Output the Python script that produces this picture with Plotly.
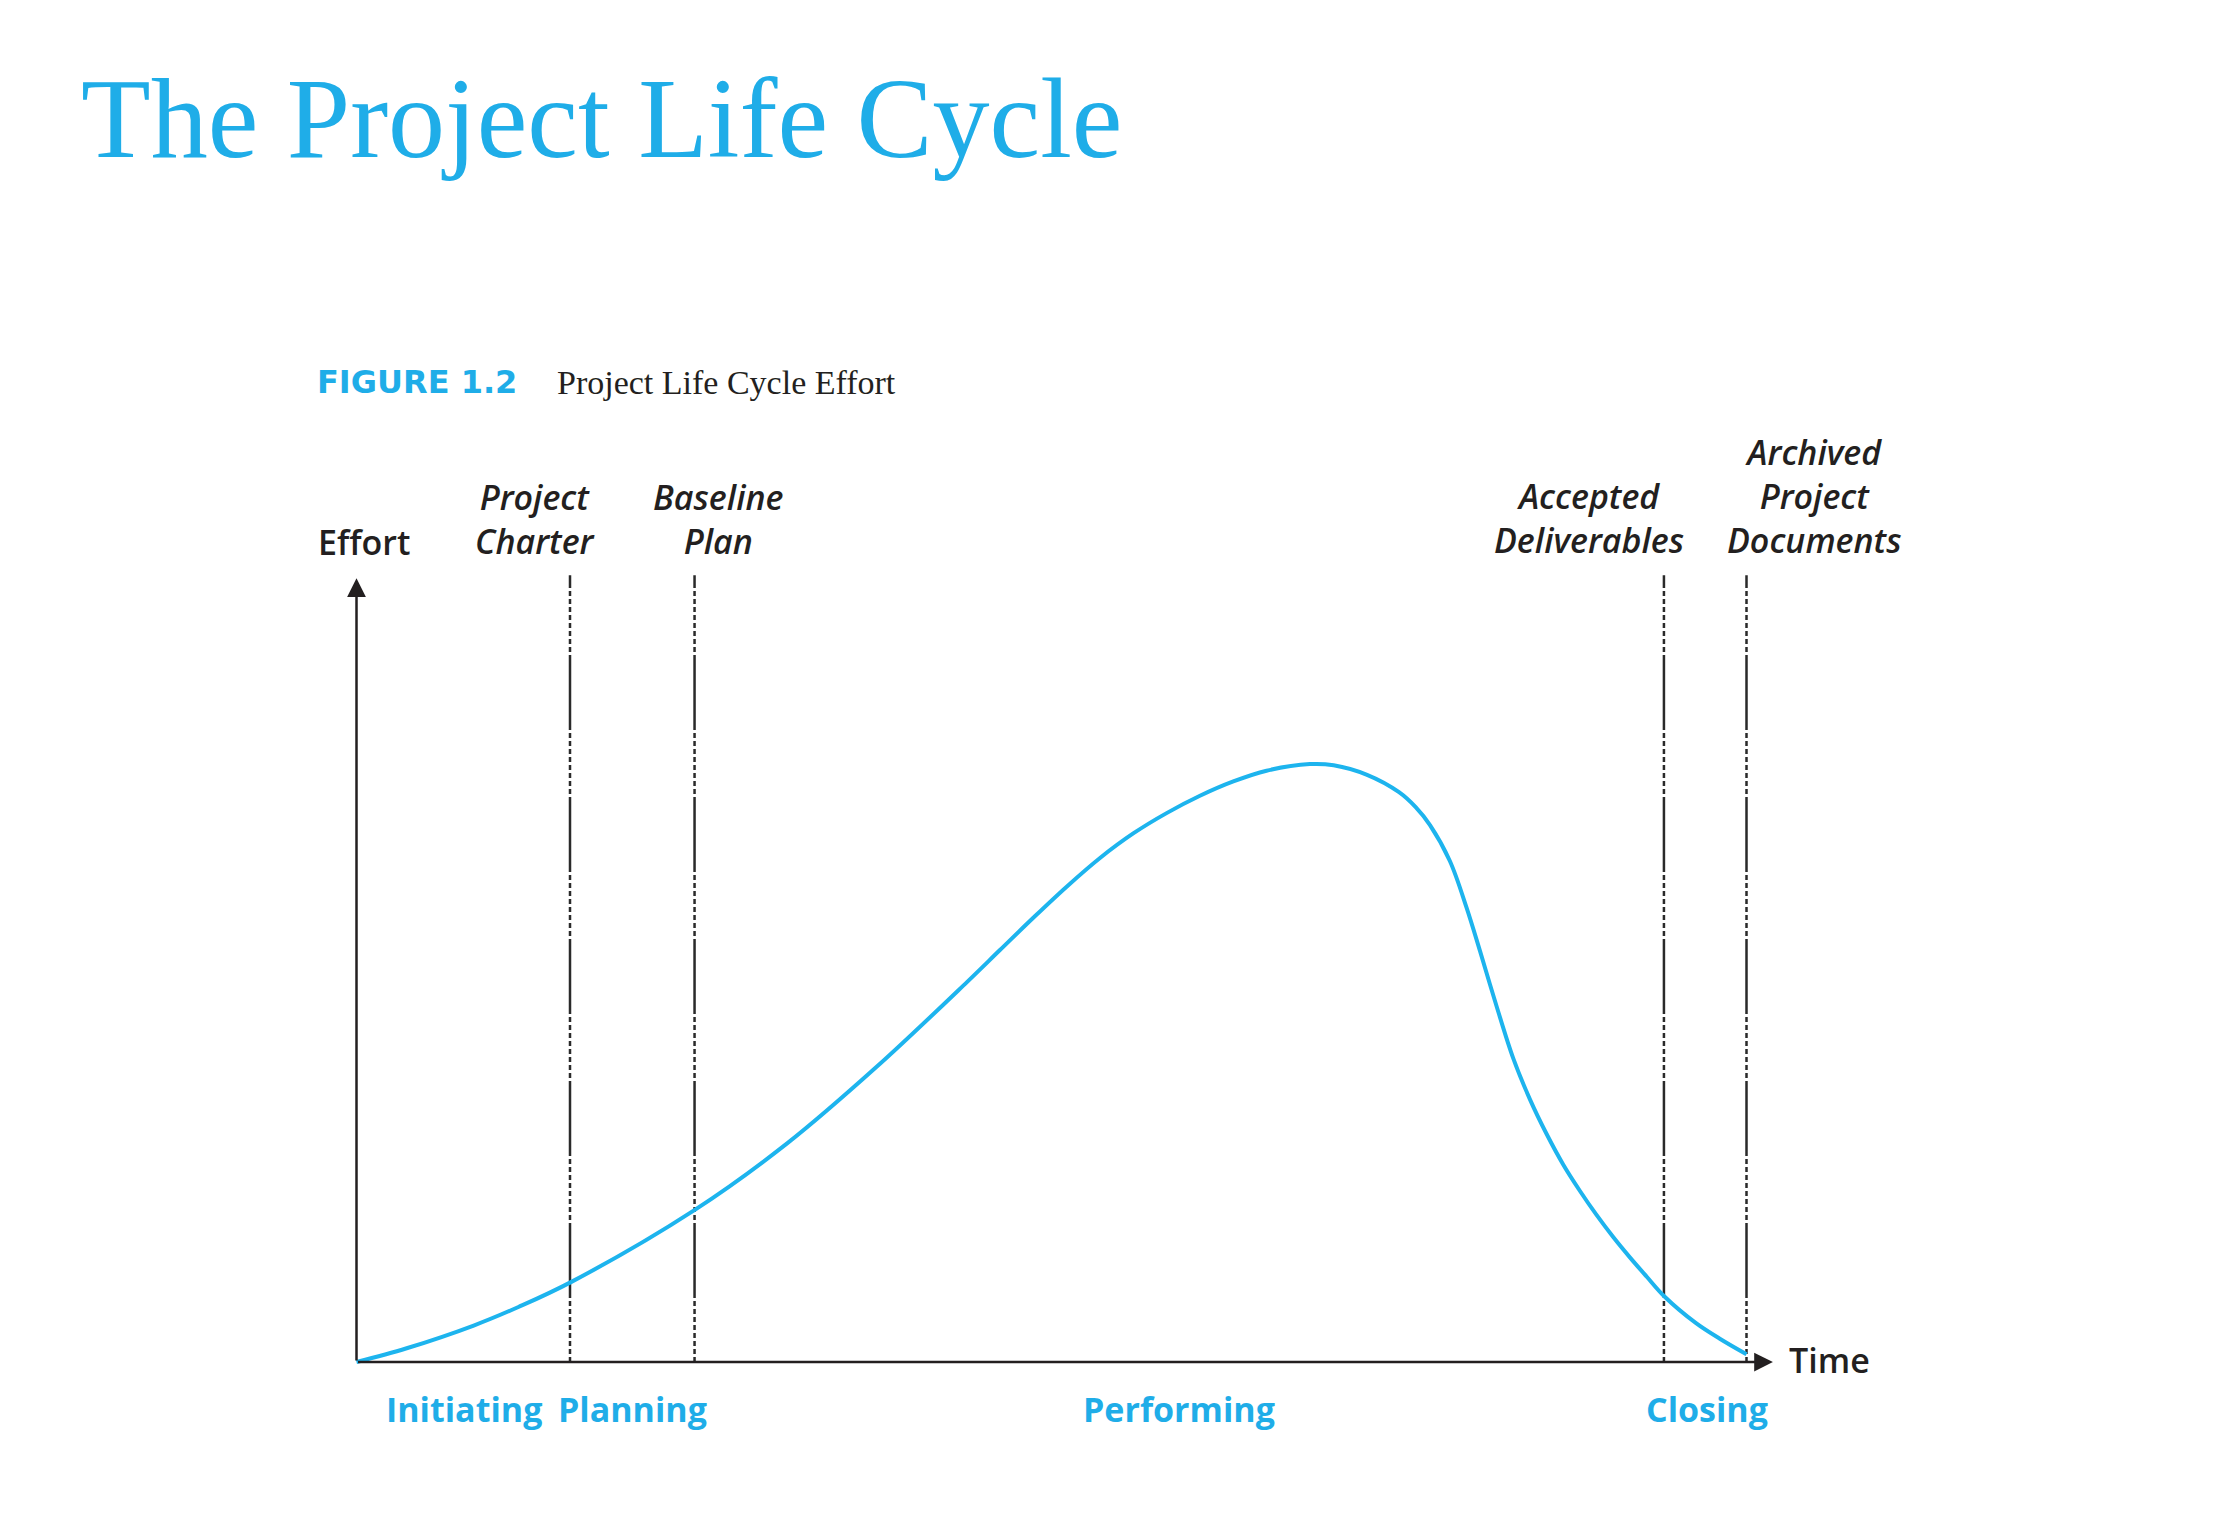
import plotly.graph_objects as go

# ---------------- data ----------------
time_pts = [0, 3.61, 8.43, 11.65, 15.46, 24.31, 30.98, 37.42, 43.9, 46.29, 48.69, 51.09,
            53.49, 55.88, 58.28, 60.68, 63.08, 65.47, 68.59, 70.3, 72.7, 75.0, 76.2,
            77.23, 78.66, 79.86, 80.82, 82.02, 83.22, 84.42, 85.62, 86.82, 88.02, 89.21,
            90.41, 91.61, 92.81, 94.08, 96.37, 98.08, 100]
effort = [0, 2.3, 6.1, 9.2, 13.4, 25.4, 36.56, 49.37, 63.5, 68.9, 74.3, 79.5,
          84.3, 88.4, 91.8, 94.7, 97.1, 98.9, 100, 99.8, 98.2, 95.3, 92.8,
          89.8, 83.8, 76.0, 68.8, 59.5, 50.78, 43.93, 38.13, 33.0, 28.6, 24.6,
          20.9, 17.5, 14.3, 11.0, 6.5, 3.9, 1.3]

milestone_x = [15.36, 24.32, 94.06, 100.0]
milestone_labels = ["Project<br>Charter", "Baseline<br>Plan",
                    "Accepted<br>Deliverables", "Archived<br>Project<br>Documents"]
phase_labels = ["Initiating", "Planning", "Performing", "Closing"]
title_text = "The Project Life Cycle"
fig_label = "FIGURE 1.2"
fig_caption = "Project Life Cycle Effort"
y_label = "Effort"
x_label = "Time"

# ---------------- geometry / style ----------------
W, H = 2236, 1518
X0_PX, X_SCALE = 356.5, 13.9      # pixel of x=0, px per unit
Y0_PX, Y_SCALE = 1362.0, 5.979    # pixel of y=0, px per unit
AXIS_TOP = 131.1
AXIS_RIGHT = 101.9
LINE_TOP = 131.6

BLUE = "#1FADE8"
CURVE = "#1DB4EE"
DARK = "#231F20"


def px(xp):
    return xp / W


def py(yp):
    return 1 - yp / H


fig = go.Figure()

# dashed milestone lines (drawn from bottom up so the pattern starts dotted)
dash = ",".join(["5px,3px"] * 8) + ",75px,3px"
for mx in milestone_x:
    fig.add_trace(go.Scatter(x=[mx, mx], y=[0, LINE_TOP], mode="lines",
                             line=dict(color="#2a2a2a", width=2.5, dash=dash),
                             hoverinfo="skip", showlegend=False))

# effort curve
fig.add_trace(go.Scatter(x=time_pts, y=effort, mode="lines",
                         line=dict(color=CURVE, width=4, shape="spline", smoothing=1.0),
                         cliponaxis=False, showlegend=False))

annotations = []
# axes with arrows
annotations.append(dict(x=0, y=AXIS_TOP, ax=0, ay=0, xref="x", yref="y", axref="x", ayref="y",
                        text="", showarrow=True, arrowhead=2, arrowsize=1.5, arrowwidth=2.5,
                        arrowcolor=DARK, standoff=0))
annotations.append(dict(x=AXIS_RIGHT, y=0, ax=0, ay=0, xref="x", yref="y", axref="x", ayref="y",
                        text="", showarrow=True, arrowhead=2, arrowsize=1.5, arrowwidth=2.5,
                        arrowcolor=DARK, standoff=0))

sans = "Open Sans"
# title
annotations.append(dict(x=px(79), y=py(118), xref="paper", yref="paper", text=title_text,
                        xanchor="left", yanchor="middle", showarrow=False,
                        font=dict(family="Liberation Serif", size=114, color=BLUE)))
annotations.append(dict(x=px(315), y=py(382), xref="paper", yref="paper", text=fig_label,
                        xanchor="left", yanchor="middle", showarrow=False,
                        font=dict(family="DejaVu Sans", size=32, color=BLUE, weight="bold")))
annotations.append(dict(x=px(555), y=py(382), xref="paper", yref="paper", text=fig_caption,
                        xanchor="left", yanchor="middle", showarrow=False,
                        font=dict(family="Liberation Serif", size=34, color=DARK)))
annotations.append(dict(x=px(364), y=py(542), xref="paper", yref="paper", text=y_label,
                        xanchor="center", yanchor="middle", showarrow=False,
                        font=dict(family=sans, size=34, color=DARK, weight=600)))
annotations.append(dict(x=px(1787), y=py(1360), xref="paper", yref="paper", text=x_label,
                        xanchor="left", yanchor="middle", showarrow=False,
                        font=dict(family=sans, size=34, color=DARK, weight=600)))

# milestone labels (multi-line, centred above each milestone line)
label_cx = [535, 718, 1589, 1814]
label_cy = [519, 519, 518, 496]
for cx, cy, txt in zip(label_cx, label_cy, milestone_labels):
    annotations.append(dict(x=px(cx), y=py(cy), xref="paper", yref="paper", text=txt,
                            xanchor="center", yanchor="middle", align="center",
                            showarrow=False,
                            font=dict(family=sans, size=34, color=DARK, weight=600,
                                      style="italic")))

# phase labels
phase_cx = [464, 632, 1179, 1707]
for cx, txt in zip(phase_cx, phase_labels):
    annotations.append(dict(x=px(cx), y=py(1409), xref="paper", yref="paper", text=txt,
                            xanchor="center", yanchor="middle", showarrow=False,
                            font=dict(family=sans, size=34, color=BLUE, weight="bold")))

fig.update_layout(
    width=W, height=H,
    margin=dict(l=0, r=0, t=0, b=0),
    paper_bgcolor="white", plot_bgcolor="white",
    showlegend=False,
    xaxis=dict(range=[-X0_PX / X_SCALE, (W - X0_PX) / X_SCALE], visible=False, fixedrange=True),
    yaxis=dict(range=[-(H - Y0_PX) / Y_SCALE, Y0_PX / Y_SCALE], visible=False, fixedrange=True),
    annotations=annotations,
)

fig.write_html("out.html")
